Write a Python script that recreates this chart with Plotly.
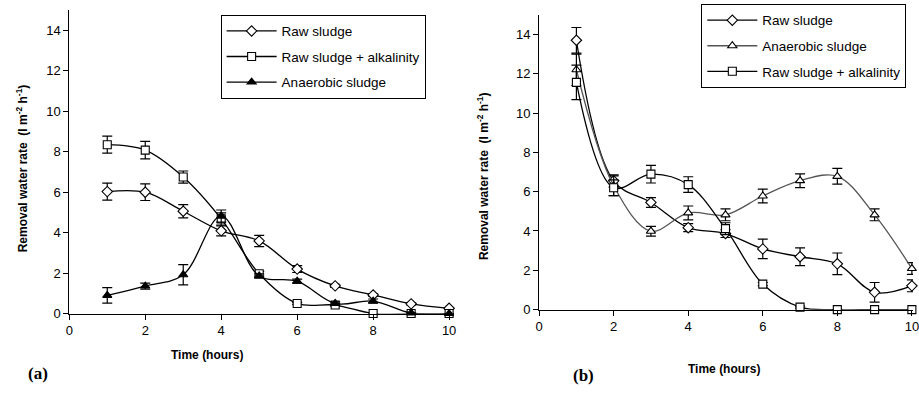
import plotly.graph_objects as go

W, H = 919, 398

# ---------------- data (a) ----------------
time_h = [1, 2, 3, 4, 5, 6, 7, 8, 9, 10]
a_raw = [6.03, 6.0, 5.06, 4.09, 3.59, 2.2, 1.37, 0.92, 0.48, 0.26]
a_raw_err = [0.42, 0.41, 0.33, 0.25, 0.28, 0.17, 0.08, 0.06, 0.05, 0.04]
a_alk = [8.35, 8.08, 6.75, 4.68, 1.97, 0.5, 0.42, 0.0, 0.0, 0.0]
a_alk_err = [0.42, 0.43, 0.3, 0.3, 0.12, 0.05, 0.05, 0.0, 0.0, 0.0]
a_ana = [0.9, 1.36, 1.92, 4.82, 1.86, 1.6, 0.5, 0.62, 0.03, 0.0]
a_ana_err = [0.38, 0.15, 0.5, 0.3, 0.1, 0.1, 0.08, 0.1, 0.0, 0.0]

# ---------------- data (b) ----------------
b_raw = [13.7, 6.55, 5.45, 4.17, 3.87, 3.09, 2.69, 2.33, 0.88, 1.21]
b_raw_err = [0.65, 0.3, 0.25, 0.2, 0.2, 0.5, 0.45, 0.55, 0.5, 0.3]
b_ana = [12.2, 6.3, 3.99, 4.92, 4.82, 5.78, 6.56, 6.78, 4.82, 2.09]
b_ana_err = [0.8, 0.5, 0.25, 0.35, 0.3, 0.35, 0.35, 0.4, 0.3, 0.3]
b_alk = [11.56, 6.2, 6.89, 6.36, 4.12, 1.3, 0.13, 0.0, 0.0, 0.0]
b_alk_err = [0.88, 0.4, 0.45, 0.4, 0.3, 0.08, 0.05, 0.0, 0.0, 0.0]

ytick_vals = [0, 2, 4, 6, 8, 10, 12, 14]
xtick_vals = [0, 2, 4, 6, 8, 10]

FONT = "Liberation Sans, Arial, sans-serif"


def trace(x, y, err, name, symbol, fill, xa, ya, legend, group, linecolor="black"):
    return go.Scatter(
        x=x, y=y, name=name, xaxis=xa, yaxis=ya, legend=legend,
        legendgroup=group, mode="lines+markers",
        line=dict(color=linecolor, width=1.3, shape="spline", smoothing=1.0),
        marker=dict(symbol=symbol, size=8, color=fill,
                    line=dict(color="black", width=1.1)),
        error_y=dict(type="data", array=err, visible=True, color="black",
                     thickness=1.2, width=5),
        cliponaxis=False,
    )


fig = go.Figure()
fig.add_trace(trace(time_h, a_raw, a_raw_err, "Raw sludge", "diamond", "white", "x", "y", "legend", "a1"))
fig.add_trace(trace(time_h, a_alk, a_alk_err, "Raw sludge + alkalinity", "square", "white", "x", "y", "legend", "a2"))
fig.add_trace(trace(time_h, a_ana, a_ana_err, "Anaerobic sludge", "triangle-up", "black", "x", "y", "legend", "a3"))

fig.add_trace(trace(time_h, b_raw, b_raw_err, "Raw sludge", "diamond", "white", "x2", "y2", "legend2", "b1"))
fig.add_trace(trace(time_h, b_ana, b_ana_err, "Anaerobic sludge", "triangle-up", "white", "x2", "y2", "legend2", "b2", linecolor="#555555"))
fig.add_trace(trace(time_h, b_alk, b_alk_err, "Raw sludge + alkalinity", "square", "white", "x2", "y2", "legend2", "b3"))

axis_common = dict(
    showgrid=False, zeroline=False, showline=True, linecolor="black", linewidth=1,
    ticks="outside", ticklen=5, tickwidth=1, tickcolor="black",
    tickfont=dict(family=FONT, size=13, color="black"), fixedrange=True,
    ticklabeloverflow="allow",
)

legend_common = dict(
    xanchor="left", yanchor="top", bordercolor="black", borderwidth=1, bgcolor="white",
    font=dict(family=FONT, size=13.5, color="black"),
    traceorder="grouped", tracegroupgap=5, itemwidth=50,
)

fig.update_layout(
    width=W, height=H, margin=dict(l=0, r=0, t=0, b=0),
    paper_bgcolor="white", plot_bgcolor="white", showlegend=True,
    xaxis=dict(domain=[66 / W, 455 / W], range=[0, 10.13], tickvals=xtick_vals,
               anchor="y", **axis_common),
    yaxis=dict(domain=[1 - 320 / H, 1 - 10 / H], range=[0, 15.02], tickvals=ytick_vals,
               anchor="x", **axis_common),
    xaxis2=dict(domain=[541 / W, 1.0], range=[0, 10.03], tickvals=xtick_vals,
                anchor="y2", **axis_common),
    yaxis2=dict(domain=[1 - 316 / H, 1 - 15 / H], range=[0, 15.0], tickvals=ytick_vals,
                anchor="x2", **axis_common),
    legend=dict(x=219 / W, y=1 - 15 / H, **legend_common),
    legend2=dict(x=705 / W, y=1 - 4 / H, **legend_common),
)

ytitle = "<b>Removal water rate  (l m<sup>-2</sup> h<sup>-1</sup>)</b>"
annots = [
    dict(x=18, y=172, text=ytitle, textangle=-90,
         font=dict(family=FONT, size=12, color="black")),
    dict(x=485, y=180, text=ytitle, textangle=-90,
         font=dict(family=FONT, size=12, color="black")),
    dict(x=205, y=362, text="<b>Time (hours)</b>",
         font=dict(family=FONT, size=12, color="black")),
    dict(x=728, y=377, text="<b>Time (hours)</b>",
         font=dict(family=FONT, size=12, color="black")),
    dict(x=34, y=381, text="<b>(a)</b>",
         font=dict(family="Liberation Serif, Times New Roman, serif", size=17, color="black")),
    dict(x=586, y=383, text="<b>(b)</b>",
         font=dict(family="Liberation Serif, Times New Roman, serif", size=17, color="black")),
]
for a in annots:
    fig.add_annotation(
        x=a["x"] / W, y=1 - a["y"] / H, xref="paper", yref="paper",
        xanchor="center", yanchor="middle", showarrow=False,
        text=a["text"], textangle=a.get("textangle", 0), font=a["font"],
    )

fig.write_html("out.html")
